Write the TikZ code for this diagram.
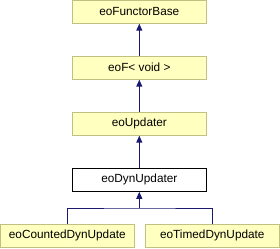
\documentclass[tikz,border=0pt]{standalone}
\usepackage{fontspec}
\setmainfont{Liberation Sans}
\usetikzlibrary{arrows.meta}
\definecolor{boxfill}{HTML}{FFFFC0}
\definecolor{boxline}{HTML}{C0C080}
\definecolor{edge}{HTML}{191970}
\tikzset{
  cls/.style={draw=boxline, fill=boxfill, line width=1pt, minimum width=134pt, minimum height=23pt, inner sep=0pt, font=\fontsize{11.8}{12}\selectfont},
  cur/.style={cls, draw=black, fill=white},
  inh/.style={draw=edge, line width=1pt, -{Triangle[length=7pt,width=6pt]}}
}
\begin{document}
\begin{tikzpicture}[x=1pt,y=-1pt]
\useasboundingbox (0,0) rectangle (280,248);
\node[cls] (base) at (139.3,11.7) {eoFunctorBase};
\node[cls] (eof) at (139.3,67.7) {eoF< void >};
\node[cls] (upd) at (139.3,123.7) {eoUpdater};
\node[cur] (dyn) at (139.3,179.8) {eoDynUpdater};
\node[cls] (cnt) at (67.3,235.8) {eoCountedDynUpdate};
\node[cls] (tim) at (212.3,235.8) {eoTimedDynUpdate};
\coordinate (br) at (139.3,208);
\draw[inh] (eof.north) -- (base.south);
\draw[inh] (upd.north) -- (eof.south);
\draw[inh] (dyn.north) -- (upd.south);
\draw[inh] (br) -- (dyn.south);
\draw[draw=edge, line width=1pt] (cnt.north) |- (br) -| (tim.north);
\end{tikzpicture}
\end{document}
